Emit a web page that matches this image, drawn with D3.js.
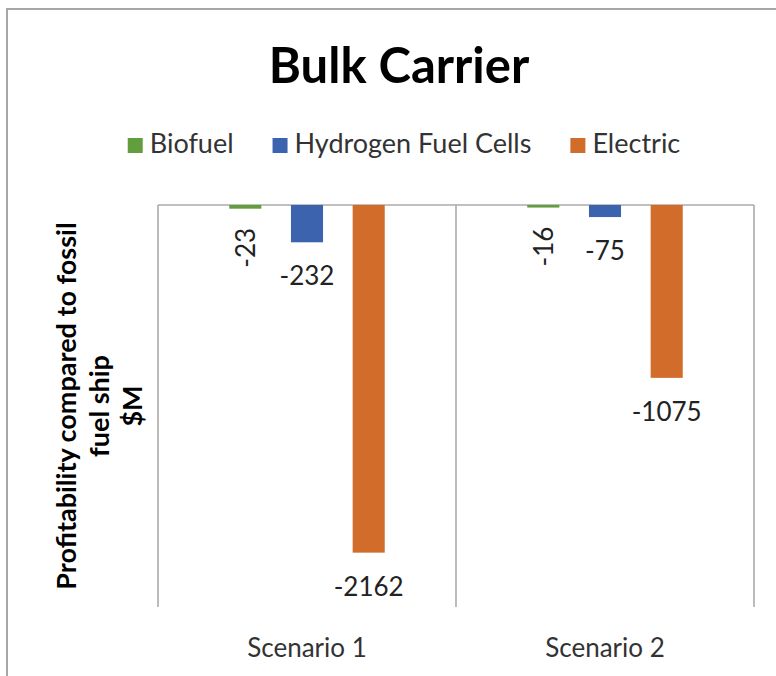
<!DOCTYPE html>
<html>
<head>
<meta charset="utf-8">
<script src="https://cdn.jsdelivr.net/npm/d3@7"></script>
<style>
  body { margin: 0; background: #ffffff; }
  text { font-family: Lato, "Open Sans", sans-serif; }
</style>
</head>
<body>
<div id="chart"></div>
<script>
// chart values
var categories = ["Scenario 1", "Scenario 2"];
var seriesNames = ["Biofuel", "Hydrogen Fuel Cells", "Electric"];
var biofuel = [-23, -16];
var hydrogen = [-232, -75];
var electric = [-2162, -1075];
var yDomain = [-2500, 0];

var seriesColors = ["#629e3e", "#3c64ae", "#d26c2a"];
// labels of this series are turned on their side
var rotatedSeries = "Biofuel";

var svgWidth = 776;
var svgHeight = 676;

var margin = { top: 205, bottom: 69, left: 158, right: 22 };
var width = svgWidth - margin.left - margin.right;
var height = svgHeight - margin.top - margin.bottom;

// one row per category, one value per series
var rows = categories.map(function(c, i) {
  return { category: c, values: [biofuel[i], hydrogen[i], electric[i]] };
});

var svg = d3.select("#chart")
  .append("svg")
  .attr("width", svgWidth)
  .attr("height", svgHeight);

// outer chart border (runs off the right and bottom of the picture)
svg.append("rect")
  .attr("x", 7)
  .attr("y", 9)
  .attr("width", 900)
  .attr("height", 900)
  .attr("fill", "none")
  .attr("stroke", "#a6a6a6")
  .attr("stroke-width", 2);

var chartGroup = svg.append("g")
  .attr("transform", `translate(${margin.left}, ${margin.top})`);

// scales
var x0 = d3.scaleBand()
  .domain(categories)
  .range([0, width]);

var x1 = d3.scaleBand()
  .domain(seriesNames)
  .range([0, x0.bandwidth()])
  .paddingInner(0.48)
  .paddingOuter(1.155);

var y = d3.scaleLinear()
  .domain(yDomain)
  .range([height, 0]);

// vertical category gridlines
var boundaries = categories.map(function(c) { return x0(c); }).concat([x0.range()[1]]);
chartGroup.selectAll(".vgrid")
  .data(boundaries)
  .enter()
  .append("line")
  .attr("class", "vgrid")
  .attr("x1", d => d)
  .attr("x2", d => d)
  .attr("y1", y(0))
  .attr("y2", height)
  .attr("stroke", "#ababab")
  .attr("stroke-width", 1.6);

// horizontal axis line at zero
chartGroup.append("line")
  .attr("x1", 0)
  .attr("x2", width)
  .attr("y1", y(0))
  .attr("y2", y(0))
  .attr("stroke", "#ababab")
  .attr("stroke-width", 1.6);

// category labels sit low, under the plot
var bottomAxis = d3.axisBottom(x0).tickSize(0).tickPadding(0);
var xAxis = chartGroup.append("g")
  .attr("transform", `translate(0, ${height})`)
  .call(bottomAxis);
xAxis.select(".domain").remove();
xAxis.selectAll("text")
  .attr("dy", null)
  .attr("y", 50)
  .attr("fill", "#333333")
  .style("font-size", "26px");

// bars
var groups = chartGroup.selectAll(".cat")
  .data(rows)
  .enter()
  .append("g")
  .attr("class", "cat")
  .attr("transform", d => `translate(${x0(d.category)}, 0)`);

var items = function(d) {
  return d.values.map(function(v, i) { return { name: seriesNames[i], value: v, color: seriesColors[i] }; });
};

groups.selectAll("rect")
  .data(items)
  .enter()
  .append("rect")
  .attr("x", d => x1(d.name))
  .attr("width", x1.bandwidth())
  .attr("y", d => y(Math.max(0, d.value)))
  .attr("height", d => Math.abs(y(d.value) - y(0)))
  .attr("fill", d => d.color);

// data labels below the bar ends
groups.selectAll(".lbl")
  .data(items)
  .enter()
  .append("text")
  .attr("class", "lbl")
  .attr("fill", "#222222")
  .style("font-size", "26px")
  .attr("text-anchor", "middle")
  .each(function(d) {
    var cx = x1(d.name) + x1.bandwidth() / 2;
    var t = d3.select(this);
    if (d.name === rotatedSeries) {
      var cy = y(d.value) + 39;
      t.attr("x", cx).attr("y", cy).attr("dy", "0.36em")
        .attr("transform", `rotate(-90, ${cx}, ${cy})`);
    } else {
      t.attr("x", cx).attr("y", y(d.value) + 43);
    }
  })
  .text(d => d.value);

// title
svg.append("text")
  .attr("x", 399)
  .attr("y", 83)
  .attr("text-anchor", "middle")
  .attr("fill", "#000000")
  .style("font-size", "49px")
  .style("font-weight", "bold")
  .text("Bulk Carrier");

// legend, laid out from the measured text widths and centred
var legend = svg.append("g");
var legendItems = legend.selectAll("g")
  .data(seriesNames)
  .enter()
  .append("g");

legendItems.append("rect")
  .attr("width", 15)
  .attr("height", 15)
  .attr("y", -15)
  .attr("fill", (d, i) => seriesColors[i]);

legendItems.append("text")
  .attr("x", 22)
  .attr("fill", "#333333")
  .style("font-size", "27px")
  .text(d => d);

var pos = 0;
legendItems.each(function() {
  var w = 22 + d3.select(this).select("text").node().getComputedTextLength();
  d3.select(this).attr("transform", `translate(${pos}, 0)`);
  pos += w + 39;
});
var legendWidth = pos - 39;
legend.attr("transform", `translate(${404 - legendWidth / 2}, 153)`);

// y axis title, three lines turned on their side
var yTitleLines = ["Profitability compared to fossil", "fuel ship", "$M"];
var yTitle = svg.append("text")
  .attr("transform", `translate(76, ${margin.top + height / 2}) rotate(-90)`)
  .attr("text-anchor", "middle")
  .attr("fill", "#000000")
  .style("font-size", "27px")
  .style("font-weight", "bold");

yTitle.selectAll("tspan")
  .data(yTitleLines)
  .enter()
  .append("tspan")
  .attr("x", 0)
  .attr("y", (d, i) => i * 33)
  .text(d => d);
</script>
</body>
</html>
